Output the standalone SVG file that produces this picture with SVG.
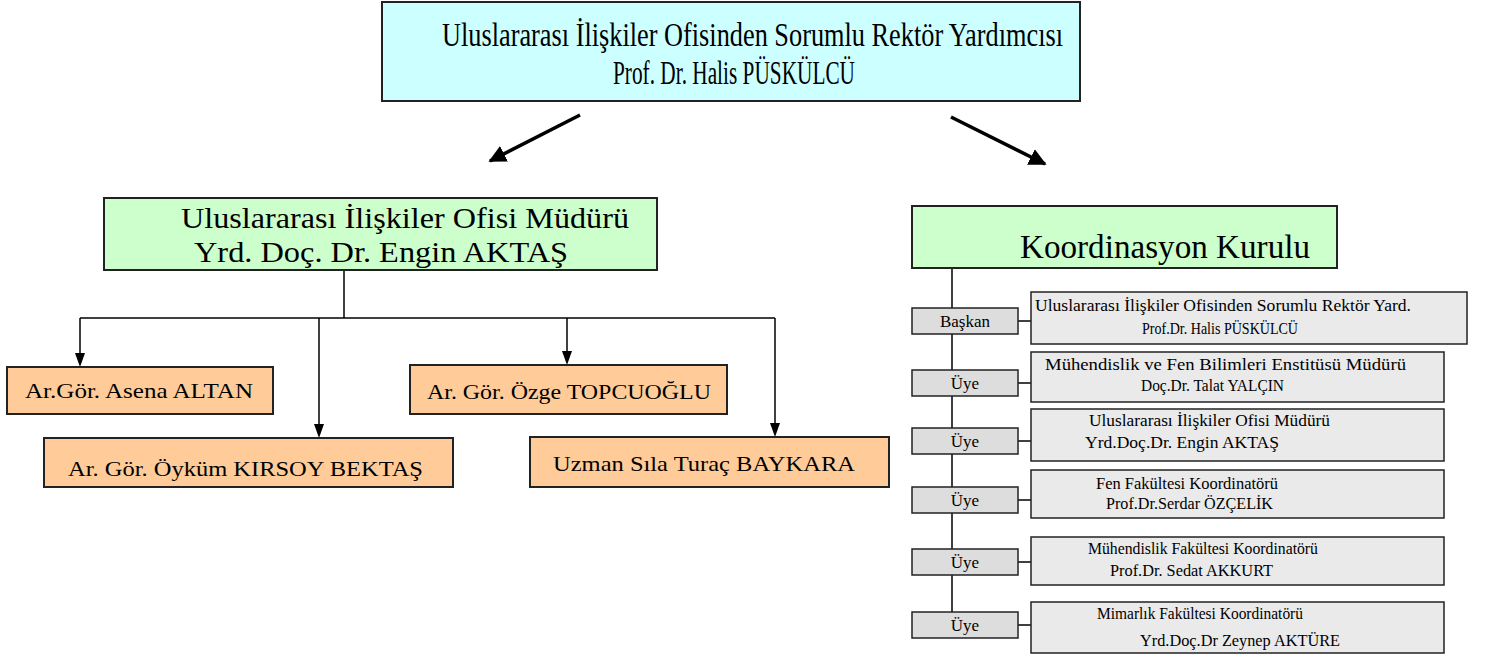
<svg xmlns="http://www.w3.org/2000/svg" width="1489" height="657" viewBox="0 0 1489 657">
<defs>
<style>
text{font-family:"Liberation Serif","Times New Roman",serif;fill:#000}
.box{stroke:#222;stroke-width:2}
.cyan{fill:#CCFFFF}
.green{fill:#CCFFCC}
.orange{fill:#FFCC99}
.lbl{fill:#DDDDDD;stroke:#222;stroke-width:1.5}
.info{fill:#EAEAEA;stroke:#222;stroke-width:1.5}
.big{font-size:34px}
.dir{font-size:30px}
.mid{font-size:22px}
.sm{font-size:16.5px}
.tag{font-size:17px}
.ln{stroke:#000;stroke-width:1.5;fill:none}
.thick{stroke:#000;stroke-width:3.5;fill:none}
</style>
<marker id="ahb" viewBox="0 0 10 10" refX="9" refY="5" markerWidth="5" markerHeight="5" orient="auto"><path d="M0,0 L10,5 L0,10 z" fill="#000"/></marker>
</defs>
<rect width="1489" height="657" fill="#fff"/>
<g id="connectors">
<line class="thick" x1="580" y1="115" x2="490" y2="161" marker-end="url(#ahb)"/>
<line class="thick" x1="951" y1="117" x2="1045" y2="164" marker-end="url(#ahb)"/>
<polyline class="ln" points="344,270 344,318"/>
<line class="ln" x1="80" y1="318" x2="775" y2="318"/>
<path class="ln" d="M80,318 V353"/>
<path d="M75,353 L85,353 L80,367 z" fill="#000"/>
<path class="ln" d="M319,318 V424"/>
<path d="M314,424 L324,424 L319,438 z" fill="#000"/>
<path class="ln" d="M567,318 V351"/>
<path d="M562,351 L572,351 L567,365 z" fill="#000"/>
<path class="ln" d="M775,318 V423"/>
<path d="M770,423 L780,423 L775,437 z" fill="#000"/>
<line class="ln" x1="952" y1="268" x2="952" y2="612"/>
<line class="ln" x1="1018" y1="321" x2="1031" y2="321"/>
<line class="ln" x1="1018" y1="383" x2="1031" y2="383"/>
<line class="ln" x1="1018" y1="441" x2="1031" y2="441"/>
<line class="ln" x1="1018" y1="500" x2="1031" y2="500"/>
<line class="ln" x1="1018" y1="562" x2="1031" y2="562"/>
<line class="ln" x1="1018" y1="625" x2="1031" y2="625"/>
</g>
<g id="rector">
<rect class="box cyan" x="382" y="2" width="698" height="99"/>
<text class="big" x="442" y="46" textLength="621" lengthAdjust="spacingAndGlyphs">Uluslararası İlişkiler Ofisinden Sorumlu Rektör Yardımcısı</text>
<text class="big" x="613" y="84" textLength="242" lengthAdjust="spacingAndGlyphs">Prof. Dr. Halis PÜSKÜLCÜ</text>
</g>
<g id="director">
<rect class="box green" x="104" y="198" width="553" height="72"/>
<text class="dir" x="181" y="228" textLength="448" lengthAdjust="spacingAndGlyphs">Uluslararası İlişkiler Ofisi Müdürü</text>
<text class="dir" x="194" y="262" textLength="374" lengthAdjust="spacingAndGlyphs">Yrd. Doç. Dr. Engin AKTAŞ</text>
</g>
<g id="asena">
<rect class="box orange" x="7" y="367" width="266" height="47"/>
<text class="mid" x="25" y="398" textLength="228" lengthAdjust="spacingAndGlyphs">Ar.Gör. Asena ALTAN</text>
</g>
<g id="oykum">
<rect class="box orange" x="44" y="438" width="409" height="49"/>
<text class="mid" x="68" y="476" textLength="355" lengthAdjust="spacingAndGlyphs">Ar. Gör. Öyküm KIRSOY BEKTAŞ</text>
</g>
<g id="ozge">
<rect class="box orange" x="410" y="365" width="317" height="49"/>
<text class="mid" x="427" y="399" textLength="284" lengthAdjust="spacingAndGlyphs">Ar. Gör. Özge TOPCUOĞLU</text>
</g>
<g id="sila">
<rect class="box orange" x="530" y="437" width="359" height="50"/>
<text class="mid" x="553" y="471" textLength="302" lengthAdjust="spacingAndGlyphs">Uzman Sıla Turaç BAYKARA</text>
</g>
<g id="kurul">
<rect class="box green" x="912" y="206" width="425" height="62"/>
<text class="big" x="1020" y="258" textLength="290" lengthAdjust="spacingAndGlyphs">Koordinasyon Kurulu</text>
</g>
<g id="m1">
<rect class="lbl" x="912" y="308" width="106" height="26"/>
<text class="tag" x="965" y="327" text-anchor="middle">Başkan</text>
<rect class="info" x="1031" y="292" width="436" height="52"/>
<text class="sm" x="1035" y="311" textLength="376" lengthAdjust="spacingAndGlyphs">Uluslararası İlişkiler Ofisinden Sorumlu Rektör Yard.</text>
<text class="sm" x="1142" y="334" textLength="156" lengthAdjust="spacingAndGlyphs">Prof.Dr. Halis PÜSKÜLCÜ</text>
</g>
<g id="m2">
<rect class="lbl" x="912" y="370" width="106" height="26"/>
<text class="tag" x="965" y="389" text-anchor="middle">Üye</text>
<rect class="info" x="1031" y="352" width="413" height="50"/>
<text class="sm" x="1045" y="370" textLength="361" lengthAdjust="spacingAndGlyphs">Mühendislik ve Fen Bilimleri Enstitüsü Müdürü</text>
<text class="sm" x="1141" y="391" textLength="143" lengthAdjust="spacingAndGlyphs">Doç.Dr. Talat YALÇIN</text>
</g>
<g id="m3">
<rect class="lbl" x="912" y="428" width="106" height="26"/>
<text class="tag" x="965" y="447" text-anchor="middle">Üye</text>
<rect class="info" x="1031" y="409" width="413" height="52"/>
<text class="sm" x="1089" y="426" textLength="241" lengthAdjust="spacingAndGlyphs">Uluslararası İlişkiler Ofisi Müdürü</text>
<text class="sm" x="1085" y="448" textLength="194" lengthAdjust="spacingAndGlyphs">Yrd.Doç.Dr. Engin AKTAŞ</text>
</g>
<g id="m4">
<rect class="lbl" x="912" y="487" width="106" height="26"/>
<text class="tag" x="965" y="506" text-anchor="middle">Üye</text>
<rect class="info" x="1031" y="470" width="413" height="48"/>
<text class="sm" x="1096" y="489" textLength="182" lengthAdjust="spacingAndGlyphs">Fen Fakültesi Koordinatörü</text>
<text class="sm" x="1106" y="509" textLength="167" lengthAdjust="spacingAndGlyphs">Prof.Dr.Serdar ÖZÇELİK</text>
</g>
<g id="m5">
<rect class="lbl" x="912" y="549" width="106" height="26"/>
<text class="tag" x="965" y="568" text-anchor="middle">Üye</text>
<rect class="info" x="1031" y="537" width="413" height="48"/>
<text class="sm" x="1088" y="554" textLength="230" lengthAdjust="spacingAndGlyphs">Mühendislik Fakültesi Koordinatörü</text>
<text class="sm" x="1110" y="576" textLength="163" lengthAdjust="spacingAndGlyphs">Prof.Dr. Sedat AKKURT</text>
</g>
<g id="m6">
<rect class="lbl" x="912" y="612" width="106" height="26"/>
<text class="tag" x="965" y="631" text-anchor="middle">Üye</text>
<rect class="info" x="1031" y="602" width="413" height="51"/>
<text class="sm" x="1097" y="619" textLength="206" lengthAdjust="spacingAndGlyphs">Mimarlık Fakültesi Koordinatörü</text>
<text class="sm" x="1140" y="646" textLength="200" lengthAdjust="spacingAndGlyphs">Yrd.Doç.Dr Zeynep AKTÜRE</text>
</g>
</svg>
